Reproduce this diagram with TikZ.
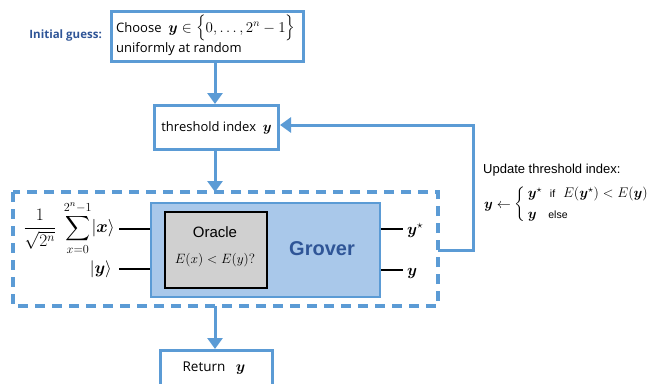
\RequirePackage{fix-cm}
\documentclass[tikz,border=0pt]{standalone}
\usepackage{amsmath,bm}
\usepackage{fontspec}
\setmainfont{Liberation Sans}
\newfontfamily\boxfont{Open Sans}
\usetikzlibrary{arrows.meta}
\definecolor{flowblue}{HTML}{5B9BD5}
\definecolor{groverfill}{HTML}{A9C8EA}
\definecolor{groverink}{HTML}{2F5597}
\definecolor{oraclefill}{HTML}{D0D0D0}
\tikzset{
  stepbox/.style={draw=flowblue, line width=3pt, fill=white, inner sep=0pt},
  flow/.style={draw=flowblue, line width=3pt, -{Triangle[width=15pt,length=11pt]}},
  wire/.style={draw=black, line width=2.4pt},
  lbl/.style={inner sep=0pt, anchor=base west},
}
\begin{document}
\begin{tikzpicture}[x=1pt,y=-1pt]
\useasboundingbox (0,0) rectangle (671,383);

% initial guess box
\node[stepbox, minimum width=192pt, minimum height=50pt, anchor=north west] (init) at (110,10) {};
\node[lbl, font=\boxfont\fontsize{13}{15}\selectfont] (chooseTxt) at (116,32) {Choose\ \ {\fontsize{15}{17}\selectfont$\bm{y}\in\Bigl\{0,\ldots,2^n-1\Bigr\}$}};
\node[lbl, font=\boxfont\fontsize{13}{15}\selectfont] (unifTxt) at (116,52) {uniformly at random};
\node[font=\boxfont\bfseries\fontsize{11.5}{13}\selectfont, text=groverink, anchor=east, inner sep=0pt] (initLbl) at (102,36) {Initial guess:};

% threshold box
\node[stepbox, minimum width=124pt, minimum height=44pt, anchor=north west] (thresh) at (153,104) {};
\node[font=\boxfont\fontsize{13}{15}\selectfont, inner sep=0pt] (threshTxt) at (thresh.center) {threshold index\ \ {\fontsize{14}{16}\selectfont$\bm{y}$}};

% dashed Grover iteration frame
\draw[draw=flowblue, line width=4pt, dash pattern=on 10pt off 7pt] (13,192) rectangle (438,306);
\coordinate (frameTop) at (215,192);
\coordinate (frameBot) at (215,306);
\coordinate (frameRight) at (438,250);

% Grover box and oracle
\node[draw=flowblue, fill=groverfill, line width=2pt, minimum width=229pt, minimum height=94pt, anchor=north west] (grover) at (150,202) {};
\node[draw=black, fill=oraclefill, line width=2pt, minimum width=102pt, minimum height=76pt, anchor=north west] (oracle) at (164,211) {};
\node[font=\fontsize{15}{17}\selectfont, inner sep=0pt] (oracleTxt) at (215,232) {Oracle};
\node[font=\fontsize{13.5}{15}\selectfont, inner sep=0pt] (oracleQ) at (215,260) {$E(x)<E(y)?$};
\node[font=\bfseries\fontsize{20}{22}\selectfont, text=groverink, inner sep=0pt] (groverTxt) at (322,249) {Grover};

% input register wires
\coordinate (inX) at (119,229);
\coordinate (inY) at (119,269);
\draw[wire] (inX) -- (inX -| grover.west);
\draw[wire] (inY) -- (inY -| grover.west);
\node[anchor=east, inner sep=0pt, font=\fontsize{17.5}{19}\selectfont] (superpos) at (115,228) {$\displaystyle\frac{1}{\sqrt{2^n}}\;\sum_{x=0}^{2^n-1}\lvert\bm{x}\rangle$};
\node[anchor=east, inner sep=0pt, font=\fontsize{17}{19}\selectfont] (ketY) at (112,269) {$\lvert\bm{y}\rangle$};

% output wires
\coordinate (outS) at (403,229);
\coordinate (outY) at (403,270);
\draw[wire] (outS -| grover.east) -- (outS);
\draw[wire] (outY -| grover.east) -- (outY);
\node[lbl, font=\fontsize{16}{18}\selectfont] (ystar) at (407,234) {$\bm{y}^\star$};
\node[lbl, font=\fontsize{16}{18}\selectfont] (yout) at (407,275) {$\bm{y}$};

% update rule
\node[lbl, font=\fontsize{13}{15}\selectfont] (updTxt) at (483,173) {Update threshold index:};
\node[lbl, font=\fontsize{14}{16}\selectfont] (rule) at (484,208) {$\bm{y}\leftarrow\left\{\begin{array}{@{\,}l@{}}\bm{y}^\star\ \ \text{\fontsize{10.5}{11}\selectfont if}\ \ E(\bm{y}^\star)<E(\bm{y})\\[5pt] \bm{y}\ \ \ \text{\fontsize{10.5}{11}\selectfont else}\end{array}\right.$};

% return box
\node[stepbox, minimum width=112pt, minimum height=50pt, anchor=north west] (ret) at (159,349) {};
\node[font=\boxfont\fontsize{13.5}{15}\selectfont, inner sep=0pt] (retTxt) at (214,368) {Return\ \ \ {\fontsize{15}{17}\selectfont$\bm{y}$}};

% flow arrows
\draw[flow] (init.south -| frameTop) -- (thresh.north -| frameTop);
\draw[flow] (thresh.south -| frameTop) -- (frameTop);
\draw[flow] (frameBot) -- (ret.north -| frameBot);
\draw[flow] (frameRight) -- (473,250) -- (473,125) -- (thresh.east |- 0,125);
\end{tikzpicture}
\end{document}
